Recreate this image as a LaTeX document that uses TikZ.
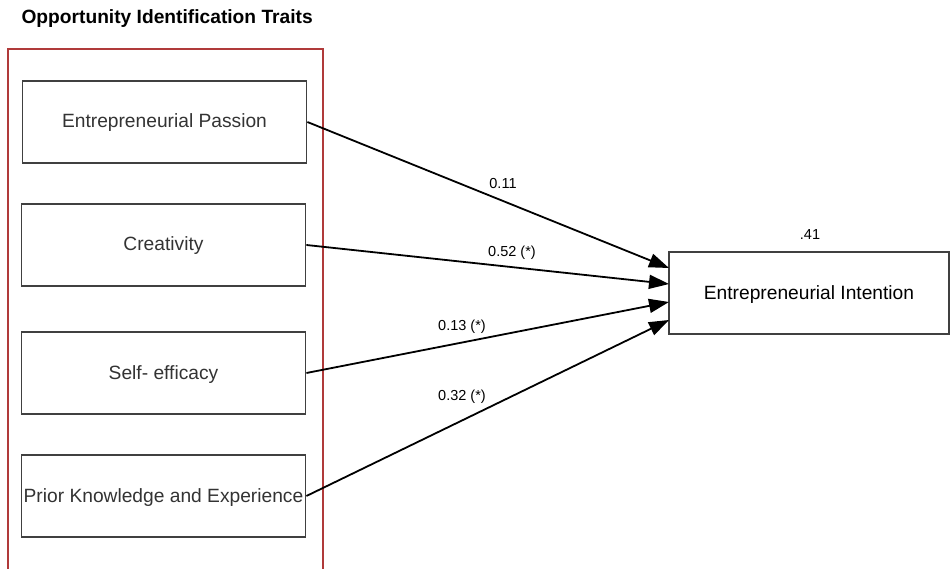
\documentclass[tikz,border=0pt]{standalone}
\usepackage{fontspec}
\setmainfont{Liberation Sans}
\usetikzlibrary{arrows.meta}
\definecolor{boxgray}{HTML}{404040}
\definecolor{txtgray}{HTML}{333333}
\definecolor{framered}{HTML}{B03A3A}
\begin{document}
\begin{tikzpicture}[x=1pt,y=-1pt,
  trait/.style={draw=boxgray,line width=1.8pt,minimum width=284pt,minimum height=82pt,inner sep=0pt,text height=12pt,text depth=0pt,font=\fontsize{19.2}{21}\selectfont,text=txtgray},
  outcome/.style={draw=boxgray,line width=1.8pt,minimum width=280pt,minimum height=82pt,inner sep=0pt,text height=12pt,text depth=0pt,font=\fontsize{19.2}{21}\selectfont,text=black},
  path/.style={line width=1.8pt,-{Triangle[length=20pt,width=14pt]}},
  coef/.style={font=\fontsize{14.5}{16}\selectfont,text=black}]
\useasboundingbox (0,0) rectangle (950,569);
\fill[white] (0,0) rectangle (950,569);
\node[anchor=west,font=\bfseries\fontsize{19.2}{21}\selectfont] (title) at (18,19) {Opportunity Identification Traits};
\draw[framered,line width=1.6pt] (8,575) -- (8,49) -- (323,49) -- (323,575);
\node[trait] (pas) at (164.5,122) {Entrepreneurial Passion};
\node[trait] (cre) at (163.5,245) {Creativity};
\node[trait] (sel) at (163.5,373) {Self- efficacy};
\node[trait] (pri) at (163.5,496) {Prior Knowledge and Experience};
\node[outcome] (int) at (809,293) {Entrepreneurial Intention};
\coordinate (i1) at (669,268);
\coordinate (i2) at (669,284);
\coordinate (i3) at (669,302);
\coordinate (i4) at (669,320);
\draw[path] (pas.east) -- (i1);
\draw[path] (cre.east) -- (i2);
\draw[path] (sel.east) -- (i3);
\draw[path] (pri.east) -- (i4);
\node[coef] (l1) at (503,184) {0.11};
\node[coef] (l2) at (512,253) {0.52 (*)};
\node[coef] (l3) at (462,327) {0.13 (*)};
\node[coef] (l4) at (462,397) {0.32 (*)};
\node[coef] (r2) at (810,235) {.41};
\end{tikzpicture}
\end{document}
